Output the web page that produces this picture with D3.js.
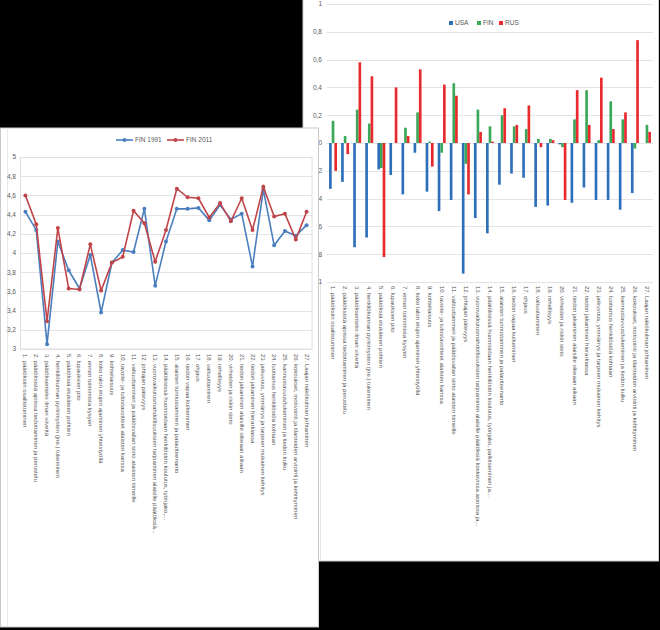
<!DOCTYPE html>
<html><head><meta charset="utf-8">
<script src="https://cdn.jsdelivr.net/npm/d3@7"></script>
<style>html,body{margin:0;padding:0;background:#000;}svg{display:block;}</style>
</head><body>
<script>
const categories = [
"1. päätöksiin osallistuminen",
"2. päätöksistä ajoissa tiedottaminen ja perustelu",
"3. päätöksenteko ilman viivettä",
"4. henkilökunnan pyrkimysten (jne.) tukeminen",
"5. päätöksiä etukäteen pohtien",
"6. lupauksien pito",
"7. ennen toimimista kysyen",
"8. koko talon etujen ajaminen yhteistyöllä",
"9. kohteliaisuus",
"10. tavoite- ja tulostavoitteet alaisten kanssa",
"11. valtuuttaminen ja päätösvallan siirto alaisten tiimeille",
"12. johtajan pätevyys",
"13. vuorovaikutusmahdollisuuksien tarjoaminen alaisille päätöksiä koskevissa asioissa ja toiminnassa",
"14. päätöksissä huomioidaan henkilöstön koulutus, työnjako, palkitseminen ja kehittyminen, työolot",
"15. alaisten tunnustaminen ja palautteenanto",
"16. tiedon vapaa kulkeminen",
"17. ohjaus",
"18. valtuuttaminen",
"19. rehellisyys",
"20. virheiden ja riskin sieto",
"21. tiedon jakaminen alaisille oikeaan aikaan",
"22. tiedon jakaminen hierarkiassa",
"23. jatkuvuus, ymmärrys ja tarpeen mukainen kehitys",
"24. luottamus henkilöstöä kohtaan",
"25. kannustavuus/tukeminen ja tiedon kulku",
"26. kokoukset, motivointi ja tilanteiden arviointi ja kehittyminen",
"27. Laajan näkökulman johtaminen"
];
const lineSeriesNames = ["FIN 1991", "FIN 2011"];
const fin1991 = [4.43,4.24,3.05,4.12,3.82,3.63,3.98,3.38,3.90,4.03,4.01,4.46,3.66,4.12,4.46,4.46,4.47,4.34,4.50,4.35,4.41,3.86,4.66,4.08,4.23,4.18,4.29];
const fin2011 = [4.60,4.30,3.29,4.26,3.63,3.62,4.09,3.61,3.90,3.96,4.44,4.31,3.91,4.24,4.67,4.58,4.57,4.37,4.52,4.33,4.57,4.24,4.69,4.38,4.41,4.14,4.43];
const lineTicks = [3,3.2,3.4,3.6,3.8,4,4.2,4.4,4.6,4.8,5];

const barSeriesNames = ["USA", "FIN", "RUS"];
const usa = [-0.33,-0.28,-0.75,-0.68,-0.19,-0.23,-0.37,-0.07,-0.35,-0.49,-0.41,-0.94,-0.54,-0.65,-0.30,-0.22,-0.25,-0.46,-0.45,-0.01,-0.43,-0.32,-0.41,-0.41,-0.48,-0.36,0.0];
const fin = [0.16,0.05,0.24,0.14,-0.18,0.0,0.11,0.22,0.01,-0.07,0.43,-0.15,0.24,0.12,0.20,0.12,0.10,0.03,0.03,-0.03,0.17,0.38,0.02,0.30,0.17,-0.04,0.13];
const rus = [-0.20,-0.08,0.58,0.48,-0.82,0.40,0.05,0.53,-0.17,0.42,0.34,-0.37,0.08,0.01,0.25,0.13,0.27,-0.03,0.02,-0.41,0.38,0.13,0.47,0.10,0.22,0.74,0.08];
const barTicks = [-1,-0.8,-0.6,-0.4,-0.2,0,0.2,0.4,0.6,0.8,1];

const fmt = v => String(+v.toFixed(1)).replace(".", ",");
function trunc(s, max) {
  if (s.length <= max) return s;
  let c = s.slice(0, max);
  const i = c.lastIndexOf(" ");
  if (i > 0) c = c.slice(0, i);
  return c + "...";
}
const FONT = "'Liberation Sans', Arial, sans-serif";

const svg = d3.select("body").append("svg").attr("width", 660).attr("height", 630)
  .style("font-family", FONT);
svg.append("rect").attr("width", 660).attr("height", 630).attr("fill", "#000");

/* ---------- RIGHT PANEL: bar chart ---------- */
const R = svg.append("g");
R.append("rect").attr("x", 303).attr("y", -2).attr("width", 355.5).attr("height", 563)
  .attr("fill", "#fff").attr("stroke", "#cfcfcf").attr("stroke-width", 1);

const ry = d3.scaleLinear().domain([-1, 1]).range([282, 4]);
const rx = d3.scaleBand().domain(categories).range([327, 653]).paddingInner(0.34).paddingOuter(0.17);
const rx1 = d3.scaleBand().domain(barSeriesNames).range([0, rx.bandwidth()]);
const barColors = d3.scaleOrdinal().domain(barSeriesNames).range(["#2e6fba", "#3aa858", "#e82a2d"]);

R.append("g").selectAll("line").data(barTicks).join("line")
  .attr("x1", 327).attr("x2", 653).attr("y1", d => Math.round(ry(d)) + 0.5).attr("y2", d => Math.round(ry(d)) + 0.5)
  .attr("stroke", "#e4e4e4").attr("stroke-width", 1);
R.append("line").attr("x1", 320.5).attr("x2", 320.5).attr("y1", 282).attr("y2", 561).attr("stroke", "#e6e6e6");
R.append("g").selectAll("text").data(barTicks).join("text")
  .attr("x", 322).attr("y", d => ry(d) + 2.3).attr("text-anchor", "end")
  .attr("font-size", 6.5).attr("fill", "#595959").text(d => fmt(d));

const barData = [];
categories.forEach((c, i) => {
  barData.push({c, s: "USA", v: usa[i]});
  barData.push({c, s: "FIN", v: fin[i]});
  barData.push({c, s: "RUS", v: rus[i]});
});
R.append("g").selectAll("rect").data(barData).join("rect")
  .attr("x", d => rx(d.c) + rx1(d.s))
  .attr("width", rx1.bandwidth())
  .attr("y", d => Math.min(ry(d.v), ry(0)))
  .attr("height", d => Math.abs(ry(d.v) - ry(0)))
  .attr("fill", d => barColors(d.s));

R.append("g").selectAll("text").data(categories).join("text")
  .attr("transform", d => `translate(${rx(d) + rx.bandwidth() / 2 - 2},286) rotate(90)`)
  .attr("font-size", 6).attr("fill", "#595959").text(d => trunc(d, 90));

const rl = R.append("g").attr("transform", "translate(449,23)");
const rlx = [0, 28, 50];
barSeriesNames.forEach((n, i) => {
  rl.append("rect").attr("x", rlx[i]).attr("y", -2).attr("width", 4).attr("height", 4).attr("fill", barColors(n));
  rl.append("text").attr("x", rlx[i] + 6).attr("y", 2.3).attr("font-size", 6.5).attr("fill", "#595959").text(n);
});

/* ---------- LEFT PANEL: line chart ---------- */
const L = svg.append("g");
L.append("rect").attr("x", 0.5).attr("y", 128).attr("width", 318).attr("height", 499)
  .attr("fill", "#fff").attr("stroke", "#c8c8c8").attr("stroke-width", 1);
L.append("line").attr("x1", 7.5).attr("x2", 7.5).attr("y1", 128).attr("y2", 627).attr("stroke", "#e8e8e8");

const ly = d3.scaleLinear().domain([3, 5]).range([349, 157]);
const lx = d3.scaleBand().domain(categories).range([20, 312]);
const lcx = d => lx(d) + lx.bandwidth() / 2;

L.append("g").selectAll("line").data(lineTicks).join("line")
  .attr("x1", 20).attr("x2", 312).attr("y1", d => Math.round(ly(d)) + 0.5).attr("y2", d => Math.round(ly(d)) + 0.5)
  .attr("stroke", "#e4e4e4");
L.append("rect").attr("x", 20.5).attr("y", 157.5).attr("width", 291.5).attr("height", 191.5)
  .attr("fill", "none").attr("stroke", "#dedede");
L.append("g").selectAll("text").data(lineTicks).join("text")
  .attr("x", 16).attr("y", d => ly(d) + 2.3).attr("text-anchor", "end")
  .attr("font-size", 6.5).attr("fill", "#595959").text(d => fmt(d));

const lineColors = ["#4a7ebf", "#c0454a"];
[fin1991, fin2011].forEach((vals, si) => {
  const pts = categories.map((c, i) => [lcx(c), ly(vals[i])]);
  L.append("path").attr("d", d3.line()(pts)).attr("fill", "none")
    .attr("stroke", lineColors[si]).attr("stroke-width", 1.6);
  L.append("g").selectAll("circle").data(pts).join("circle")
    .attr("cx", d => d[0]).attr("cy", d => d[1]).attr("r", 2)
    .attr("fill", lineColors[si]);
});

L.append("g").selectAll("text").data(categories).join("text")
  .attr("transform", d => `translate(${lcx(d) - 2},354) rotate(90)`)
  .attr("font-size", 6).attr("fill", "#595959").text(d => trunc(d, 66));

const ll = L.append("g").attr("transform", "translate(116,140)");
const llx = [0, 51];
lineSeriesNames.forEach((n, i) => {
  ll.append("line").attr("x1", llx[i]).attr("x2", llx[i] + 17).attr("y1", 0).attr("y2", 0)
    .attr("stroke", lineColors[i]).attr("stroke-width", 1.6);
  ll.append("circle").attr("cx", llx[i] + 8.5).attr("cy", 0).attr("r", 2).attr("fill", lineColors[i]);
  ll.append("text").attr("x", llx[i] + 19).attr("y", 2.3).attr("font-size", 6.5).attr("fill", "#595959").text(n);
});
</script>
</body></html>
